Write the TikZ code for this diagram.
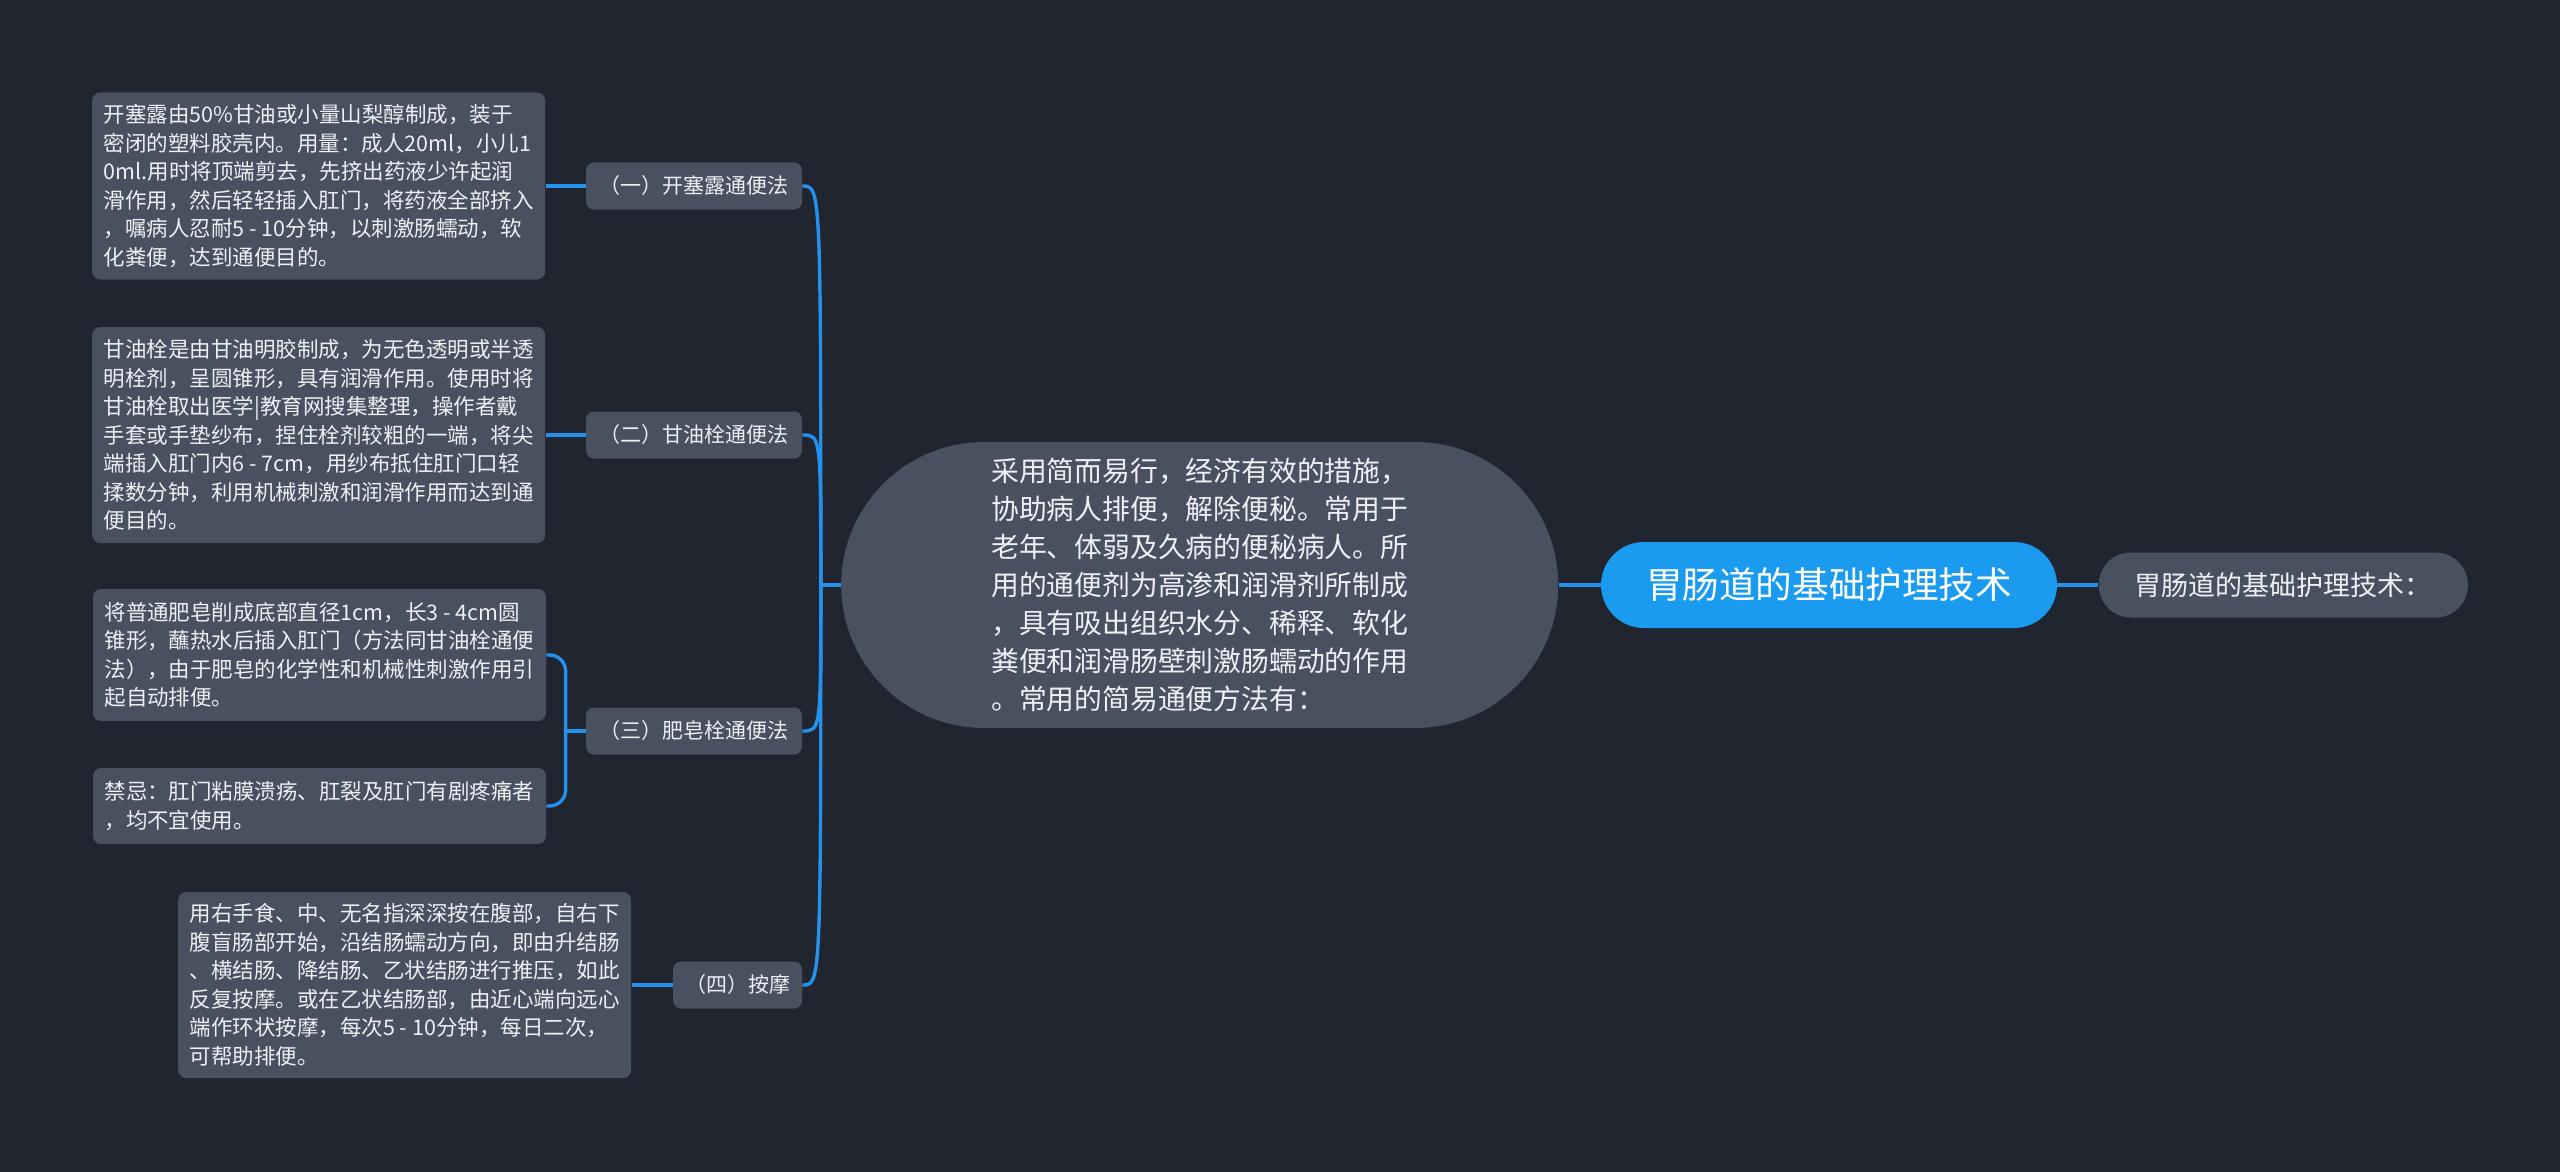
\documentclass[tikz,border=0pt]{standalone}
\usepackage{fontspec}
\setmainfont{Noto Sans CJK SC}
\usepackage{tikz}
\usetikzlibrary{positioning, calc}
\definecolor{cBg}{RGB}{33,37,48}
\definecolor{cNode}{RGB}{73,80,96}
\definecolor{cRoot}{RGB}{26,155,240}
\definecolor{cLink}{RGB}{36,146,236}
\definecolor{cText}{RGB}{238,240,244}
\tikzset{
	topic/.style   ={rectangle, rounded corners=21.5pt, fill=cRoot, text=white, minimum width=228pt, minimum height=43pt, inner sep=0pt, font=\fontsize{18.3}{22}\selectfont},
	summary/.style ={rectangle, rounded corners=71.5pt, fill=cNode, text=cText, minimum width=358.5pt, minimum height=143pt, inner sep=0pt, align=left, font=\fontsize{13.9}{19}\selectfont},
	leaf/.style    ={rectangle, rounded corners=16pt, fill=cNode, text=cText, minimum width=184.5pt, minimum height=32.5pt, inner sep=0pt, font=\fontsize{13.5}{16}\selectfont},
	method/.style  ={rectangle, rounded corners=4pt, fill=cNode, text=cText, minimum width=108pt, minimum height=23.5pt, inner sep=0pt, font=\fontsize{10.5}{13}\selectfont},
	detail/.style  ={rectangle, rounded corners=4pt, fill=cNode, text=cText, minimum width=226.5pt, inner sep=0pt, align=left, font=\fontsize{10.75}{14.25}\selectfont},
	link/.style    ={draw=cLink, line width=1.7pt},
}
\begin{document}
\begin{tikzpicture}[x=0.5pt, y=-0.5pt]
	\fill[cBg] (0,0) rectangle (2560,1172);
	\useasboundingbox (0,0) rectangle (2560,1172);
	% centre and right side
	\node[topic] (root) at (1829,585) {胃肠道的基础护理技术};
	\node[leaf, right=20.5pt of root] (head) {胃肠道的基础护理技术：};
	\node[summary, left=21pt of root] (intro) {采用简而易行，经济有效的措施，\\协助病人排便，解除便秘。常用于\\老年、体弱及久病的便秘病人。所\\用的通便剂为高渗和润滑剂所制成\\，具有吸出组织水分、稀释、软化\\粪便和润滑肠壁刺激肠蠕动的作用\\。常用的简易通便方法有：};
	\coordinate[left=10pt of intro] (hub);
	% methods
	\node[method] (m1) at (694,186) {（一）开塞露通便法};
	\node[method] (m2) at (694,435) {（二）甘油栓通便法};
	\node[method] (m3) at (694,731) {（三）肥皂栓通便法};
	\node[method, minimum width=64.5pt] (m4) at (737.5,985) {（四）按摩};
	% details
	\node[detail, minimum height=93.5pt, left=20pt of m1] (d1) {开塞露由50\%甘油或小量山梨醇制成，装于\\密闭的塑料胶壳内。用量：成人20ml，小儿1\\0ml.用时将顶端剪去，先挤出药液少许起润\\滑作用，然后轻轻插入肛门，将药液全部挤入\\，嘱病人忍耐5 - 10分钟，以刺激肠蠕动，软\\化粪便，达到通便目的。};
	\node[detail, minimum height=108pt, left=20pt of m2] (d2) {甘油栓是由甘油明胶制成，为无色透明或半透\\明栓剂，呈圆锥形，具有润滑作用。使用时将\\甘油栓取出医学|教育网搜集整理，操作者戴\\手套或手垫纱布，捏住栓剂较粗的一端，将尖\\端插入肛门内6 - 7cm，用纱布抵住肛门口轻\\揉数分钟，利用机械刺激和润滑作用而达到通\\便目的。};
	\node[detail, minimum height=66pt] (d3) at (319.5,655) {将普通肥皂削成底部直径1cm，长3 - 4cm圆\\锥形，蘸热水后插入肛门（方法同甘油栓通便\\法），由于肥皂的化学性和机械性刺激作用引\\起自动排便。};
	\node[detail, minimum height=38pt] (d4) at (319.5,806) {禁忌：肛门粘膜溃疡、肛裂及肛门有剧疼痛者\\，均不宜使用。};
	\node[detail, minimum height=93pt, left=20.5pt of m4] (d5) {用右手食、中、无名指深深按在腹部，自右下\\腹盲肠部开始，沿结肠蠕动方向，即由升结肠\\、横结肠、降结肠、乙状结肠进行推压，如此\\反复按摩。或在乙状结肠部，由近心端向远心\\端作环状按摩，每次5 - 10分钟，每日二次，\\可帮助排便。};
	\coordinate[left=10pt of m3] (fork);
	% connectors
	\draw[link] (root) -- (head); \draw[link] (root) -- (intro); \draw[link] (intro.west) -- (hub);
	\foreach \m in {m1,m2,m3,m4} {\draw[link] (hub) .. controls (hub |- \m.east) .. (\m.east);}
	\draw[link] (m1) -- (d1); \draw[link] (m2) -- (d2); \draw[link] (m4) -- (d5);
	\draw[link] (m3.west) -- (fork);
	\draw[link, rounded corners=8pt] (fork) |- (d3.east); \draw[link, rounded corners=8pt] (fork) |- (d4.east);
\end{tikzpicture}
\end{document}
